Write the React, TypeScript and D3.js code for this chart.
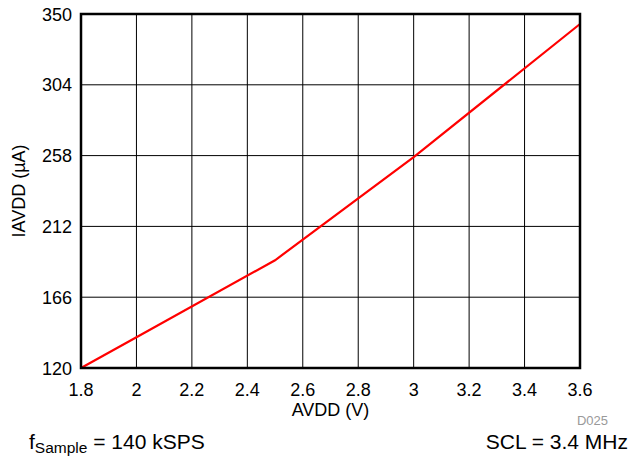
import React from "react";
import * as d3 from "d3";

const avdd = [1.8, 2.0, 2.5, 3.0, 3.6];
const iavdd = [120, 140, 190, 257, 343.5];
const xTicks = [1.8, 2, 2.2, 2.4, 2.6, 2.8, 3, 3.2, 3.4, 3.6];
const yTicks = [120, 166, 212, 258, 304, 350];

export default function App() {
  const W = 631, H = 460;
  const L = 81, R = 580, T = 14, B = 368;
  const x = d3.scaleLinear().domain([1.8, 3.6]).range([L, R]);
  const y = d3.scaleLinear().domain([120, 350]).range([B, T]);
  const line = d3.line<number>().x((_, i) => x(avdd[i])).y((d) => y(d));
  const font = "'Liberation Sans', Arial, sans-serif";
  return (
    <svg width={W} height={H} style={{ position: "absolute", left: 0, top: 0 }} fontFamily={font}>
      <rect width={W} height={H} fill="white" />
      {xTicks.map((t) => (
        <line key={"gx" + t} x1={x(t)} x2={x(t)} y1={T} y2={B} stroke="#000" strokeWidth={1} />
      ))}
      {yTicks.map((t) => (
        <line key={"gy" + t} x1={L} x2={R} y1={y(t)} y2={y(t)} stroke="#000" strokeWidth={1} />
      ))}
      <path d={line(iavdd) || ""} fill="none" stroke="#ff0000" strokeWidth={2.2} />
      <rect x={L} y={T} width={R - L} height={B - T} fill="none" stroke="#000" strokeWidth={2.5} />
      {xTicks.map((t) => (
        <text key={"tx" + t} x={x(t)} y={396} textAnchor="middle" fontSize={18}>
          {String(t)}
        </text>
      ))}
      {yTicks.map((t) => (
        <text key={"ty" + t} x={72} y={y(t) + 6.5} textAnchor="end" fontSize={18}>
          {t}
        </text>
      ))}
      <text x={(L + R) / 2} y={416} textAnchor="middle" fontSize={18}>AVDD (V)</text>
      <text transform={`translate(25,${(T + B) / 2}) rotate(-90)`} textAnchor="middle" fontSize={18}>
        IAVDD (µA)
      </text>
      <text x={608} y={425} textAnchor="end" fontSize={13} fill="#999">D025</text>
      <text x={29} y={449} fontSize={21}>
        f<tspan fontSize={15.5} dy={4}>Sample</tspan>
        <tspan dy={-4}> = 140 kSPS</tspan>
      </text>
      <text x={628} y={449} textAnchor="end" fontSize={21}>SCL = 3.4 MHz</text>
    </svg>
  );
}
